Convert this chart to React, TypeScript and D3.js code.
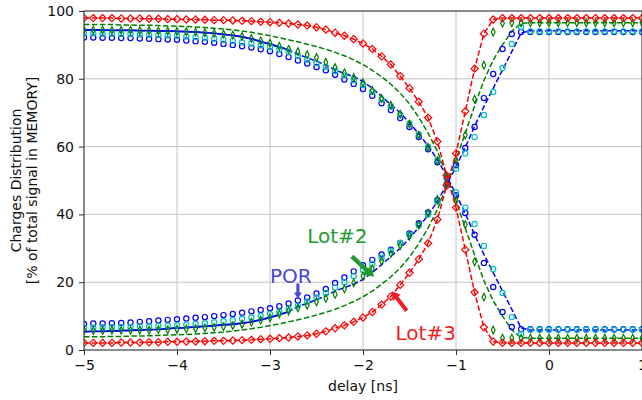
import React, { useRef, useEffect } from 'react';
import * as d3 from 'd3';

// delay grid [ns], one sample every 0.1 ns from -5 to 1
const delay = d3.range(61).map(i => -5 + i * 0.1);

// Lot#3 (red diamonds + dashed fit)
const lot3Top = [
  97.9, 97.9, 97.9, 97.9, 97.8, 97.8, 97.8, 97.7, 97.7, 97.6, 97.6, 97.5, 97.5, 97.4, 97.3, 97.3, 97.2, 97.1, 97.0, 96.8,
  96.7, 96.5, 96.3, 96.0, 95.7, 95.2, 94.5, 93.6, 92.7, 91.7,
  90.4, 88.8, 86.6, 84.2, 80.8, 77.2, 73.2, 68.5, 61.5, 51.5,
  42.0, 29.6, 17.0, 6.7, 2.5, 2.1, 2.1, 2.1, 2.1, 2.1,
  2.1, 2.1, 2.1, 2.1, 2.1, 2.1, 2.1, 2.1, 2.1, 2.1, 2.1,
];
const lot3Bot = [
  2.1, 2.1, 2.1, 2.1, 2.2, 2.2, 2.2, 2.3, 2.3, 2.4, 2.4, 2.5, 2.5, 2.6, 2.7, 2.7, 2.8, 2.9, 3.0, 3.2,
  3.3, 3.5, 3.7, 4.0, 4.3, 4.8, 5.5, 6.4, 7.3, 8.3,
  9.6, 11.2, 13.4, 15.8, 19.2, 22.8, 26.8, 31.5, 38.5, 48.5,
  58.0, 70.4, 83.0, 93.3, 97.5, 97.9, 97.9, 97.9, 97.9, 97.9,
  97.9, 97.9, 97.9, 97.9, 97.9, 97.9, 97.9, 97.9, 97.9, 97.9, 97.9,
];

// Lot#2 (green thin diamonds)
const lot2Top = [
  94.4, 94.4, 94.4, 94.3, 94.3, 94.3, 94.2, 94.2, 94.1, 94.1, 94.0, 93.9, 93.8, 93.6, 93.4, 93.2, 92.9, 92.5, 91.9, 91.2,
  90.5, 89.6, 88.7, 88.0, 87.1, 86.3, 84.9, 83.3, 81.8, 80.4,
  78.8, 76.6, 74.2, 72.2, 69.6, 66.6, 63.4, 59.8, 55.8, 51.0,
  44.0, 37.0, 26.0, 15.6, 5.9, 3.5, 3.5, 3.5, 3.5, 3.5,
  3.5, 3.5, 3.5, 3.5, 3.5, 3.5, 3.5, 3.5, 3.5, 3.5, 3.5,
];
const lot2Bot = [
  5.7, 5.7, 5.7, 5.8, 5.8, 5.8, 5.9, 5.9, 6.0, 6.0, 6.1, 6.2, 6.3, 6.5, 6.7, 6.9, 7.2, 7.6, 8.2, 8.8,
  9.5, 10.6, 11.5, 12.4, 13.2, 14.2, 15.2, 16.4, 18.0, 19.8,
  21.8, 24.0, 26.2, 28.4, 30.8, 33.6, 36.8, 40.4, 44.4, 49.2,
  56.0, 63.4, 74.0, 84.0, 93.8, 96.4, 96.5, 96.5, 96.5, 96.5,
  96.5, 96.5, 96.5, 96.5, 96.5, 96.5, 96.5, 96.5, 96.5, 96.5, 96.5,
];
// Lot#2 fit (green dashed)
const lot2FitTop = [
  96.0, 96.0, 96.0, 96.0, 95.9, 95.9, 95.8, 95.8, 95.7, 95.6, 95.5, 95.4, 95.3, 95.1, 94.9, 94.7, 94.4, 94.1, 93.7, 93.2,
  92.7, 92.1, 91.5, 90.9, 90.2, 89.5, 88.7, 87.8, 86.8, 85.6,
  84.2, 82.5, 80.6, 78.4, 75.8, 72.6, 68.6, 64.0, 58.6, 51.6,
  44.0, 36.0, 28.0, 20.5, 14.5, 10.0, 6.0, 3.6, 3.5, 3.5,
  3.5, 3.5, 3.5, 3.5, 3.5, 3.5, 3.5, 3.5, 3.5, 3.5, 3.5,
];
const lot2FitBot = [
  3.9, 3.9, 3.9, 4.0, 4.0, 4.1, 4.1, 4.2, 4.3, 4.4, 4.5, 4.6, 4.7, 4.9, 5.1, 5.3, 5.6, 5.9, 6.3, 6.7,
  7.2, 7.7, 8.3, 8.9, 9.6, 10.3, 11.1, 12.0, 13.1, 14.3,
  15.7, 17.4, 19.4, 21.6, 24.2, 27.4, 31.4, 36.0, 41.4, 48.4,
  56.0, 64.0, 72.0, 79.5, 85.5, 90.0, 94.0, 96.4, 96.5, 96.5,
  96.5, 96.5, 96.5, 96.5, 96.5, 96.5, 96.5, 96.5, 96.5, 96.5, 96.5,
];

// POR (blue circles)
const porTop = [
  92.2, 92.2, 92.1, 92.1, 92.0, 92.0, 91.9, 91.8, 91.7, 91.6, 91.5, 91.3, 91.1, 90.9, 90.6, 90.3, 90.0, 89.6, 89.2, 88.7,
  88.1, 87.3, 86.4, 85.4, 84.5, 83.5, 82.5, 81.2, 79.8, 78.5,
  77.0, 75.0, 72.8, 70.8, 68.4, 65.8, 62.8, 59.2, 55.4, 50.8,
  45.7, 40.4, 34.0, 25.7, 18.6, 11.2, 6.8, 6.1, 6.1, 6.1,
  6.1, 6.1, 6.1, 6.1, 6.1, 6.1, 6.1, 6.1, 6.1, 6.1, 6.1,
];
const porBot = [
  7.7, 7.8, 7.8, 7.9, 8.0, 8.1, 8.3, 8.5, 8.7, 8.9, 9.1, 9.3, 9.5, 9.7, 10.0, 10.3, 10.6, 11.0, 11.4, 11.8,
  12.3, 12.9, 13.7, 14.6, 15.5, 16.7, 18.0, 19.8, 21.4, 23.2,
  25.0, 26.6, 28.2, 29.6, 31.6, 34.4, 37.4, 40.6, 44.2, 49.0,
  54.5, 59.6, 65.8, 74.3, 81.4, 88.8, 93.2, 93.8, 93.8, 93.8,
  93.8, 93.8, 93.8, 93.8, 93.8, 93.8, 93.8, 93.8, 93.8, 93.8, 93.8,
];
// reference (cyan circles)
const refTop = [
  93.4, 93.4, 93.3, 93.3, 93.2, 93.2, 93.1, 93.0, 92.9, 92.8, 92.7, 92.5, 92.3, 92.1, 91.8, 91.5, 91.2, 90.8, 90.4, 89.9,
  89.4, 88.7, 88.0, 86.8, 85.6, 84.6, 83.5, 82.3, 81.0, 79.6,
  78.2, 76.2, 74.0, 71.8, 69.4, 66.8, 63.6, 60.0, 56.0, 51.2,
  46.5, 42.0, 37.2, 30.7, 23.9, 16.8, 9.7, 4.7, 6.0, 6.0,
  6.0, 6.0, 6.0, 6.0, 6.0, 6.0, 6.0, 6.0, 6.0, 6.0, 6.0,
];
const refBot = [
  6.6, 6.6, 6.7, 6.7, 6.8, 6.8, 6.9, 7.0, 7.1, 7.2, 7.3, 7.5, 7.7, 7.9, 8.2, 8.5, 8.8, 9.2, 9.6, 10.1,
  10.6, 11.3, 12.1, 13.1, 14.3, 15.5, 16.8, 18.4, 20.0, 21.8,
  23.6, 25.4, 27.2, 29.3, 31.6, 34.0, 36.8, 40.0, 43.8, 48.6,
  53.5, 58.0, 62.8, 69.3, 76.1, 83.2, 90.3, 95.3, 94.0, 94.0,
  94.0, 94.0, 94.0, 94.0, 94.0, 94.0, 94.0, 94.0, 94.0, 94.0, 94.0,
];
// POR fit (blue dashed; solid below -2.8 ns)
const porFitTop = [
  94.4, 94.4, 94.4, 94.3, 94.3, 94.3, 94.2, 94.2, 94.1, 94.1, 94.0, 93.9, 93.8, 93.6, 93.4, 93.1, 92.8, 92.4, 91.8, 91.0,
  90.2, 89.4, 88.5, 87.2, 86.2, 85.2, 84.0, 82.6, 81.6, 80.6,
  79.2, 77.2, 74.8, 72.4, 70.0, 67.0, 63.8, 60.2, 56.2, 51.2,
  46.0, 40.2, 34.0, 28.2, 22.8, 17.4, 12.0, 6.5, 5.9, 5.9,
  5.9, 5.9, 5.9, 5.9, 5.9, 5.9, 5.9, 5.9, 5.9, 5.9, 5.9,
];
const porFitBot = [
  5.4, 5.5, 5.5, 5.6, 5.7, 5.8, 5.9, 6.0, 6.1, 6.3, 6.5, 6.6, 6.8, 7.0, 7.2, 7.4, 7.6, 7.9, 8.3, 8.9,
  9.6, 10.4, 11.3, 12.8, 13.8, 14.8, 16.0, 17.4, 18.4, 19.4,
  20.8, 22.8, 25.2, 27.6, 30.0, 33.0, 36.2, 39.8, 43.8, 48.8,
  54.0, 59.8, 66.0, 71.8, 77.2, 82.6, 88.0, 93.5, 94.2, 94.2,
  94.2, 94.2, 94.2, 94.2, 94.2, 94.2, 94.2, 94.2, 94.2, 94.2, 94.2,
];
const solidEnd = -2.8;

const xTicks = [-5, -4, -3, -2, -1, 0, 1];
const yTicks = [0, 20, 40, 60, 80, 100];

// annotations: text anchors and arrows in data units
const notes = [
  { text: 'Lot#2', x: -2.6, y: 31.6, color: '#229a33' },
  { text: 'POR', x: -3.0, y: 19.8, color: '#4848d4' },
  { text: 'Lot#3', x: -1.65, y: 3.0, color: '#ee1d26' },
];
const arrows = [
  { from: [-2.12, 27.6], to: [-1.88, 21.6], color: '#229a33', w: 4.5, hw: 12, hl: 10 },
  { from: [-2.7, 19.6], to: [-2.7, 15.2], color: '#4848d4', w: 3, hw: 8, hl: 6 },
  { from: [-1.53, 11.6], to: [-1.69, 17.3], color: '#ee1d26', w: 4, hw: 10, hl: 8 },
];

const W = 642;
const H = 400;
const m = { left: 84, right: 0, top: 11, bottom: 50 };

function arrowPath(x1, y1, x2, y2, w, hw, hl) {
  const dx = x2 - x1, dy = y2 - y1;
  const len = Math.sqrt(dx * dx + dy * dy);
  const ux = dx / len, uy = dy / len;
  const px = -uy, py = ux;
  const bx = x2 - ux * hl, by = y2 - uy * hl;
  const pts = [
    [x1 + px * w / 2, y1 + py * w / 2],
    [bx + px * w / 2, by + py * w / 2],
    [bx + px * hw / 2, by + py * hw / 2],
    [x2, y2],
    [bx - px * hw / 2, by - py * hw / 2],
    [bx - px * w / 2, by - py * w / 2],
    [x1 - px * w / 2, y1 - py * w / 2],
  ];
  return 'M' + pts.map(p => p.join(',')).join('L') + 'Z';
}

const App = () => {
  const svgRef = useRef(null);

  useEffect(() => {
    const svg = d3.select(svgRef.current);
    svg.selectAll('*').remove();

    const x = d3.scaleLinear().domain([-5, 1]).range([m.left, W - m.right]);
    const y = d3.scaleLinear().domain([0, 100]).range([H - m.bottom, m.top]);

    svg.append('defs').append('clipPath').attr('id', 'plotclip')
      .append('rect')
      .attr('x', x(-5)).attr('y', y(100))
      .attr('width', x(1) - x(-5)).attr('height', y(0) - y(100));

    // grid
    const grid = svg.append('g').attr('stroke', '#c4c4c4').attr('stroke-width', 1);
    xTicks.forEach(t => grid.append('line').attr('x1', x(t)).attr('x2', x(t)).attr('y1', y(0)).attr('y2', y(100)));
    yTicks.forEach(t => grid.append('line').attr('x1', x(-5)).attr('x2', x(1)).attr('y1', y(t)).attr('y2', y(t)));

    // axes
    const xAxis = svg.append('g')
      .attr('transform', `translate(0, ${y(0)})`)
      .call(d3.axisBottom(x).tickValues(xTicks).tickFormat(d3.format('d')).tickSize(5).tickPadding(5).tickSizeOuter(0));
    const yAxis = svg.append('g')
      .attr('transform', `translate(${x(-5)}, 0)`)
      .call(d3.axisLeft(y).tickValues(yTicks).tickFormat(d3.format('d')).tickSize(5).tickPadding(5).tickSizeOuter(0));
    [xAxis, yAxis].forEach(a => {
      a.select('.domain').remove();
      a.selectAll('line').attr('stroke', '#333');
      a.selectAll('text').attr('font-size', 14).attr('font-family', 'DejaVu Sans').attr('fill', '#111');
    });

    const plot = svg.append('g').attr('clip-path', 'url(#plotclip)');
    const pts = vals => vals.map((v, i) => [delay[i], v]);
    const line = d3.line().x(d => x(d[0])).y(d => y(d[1]));

    const drawLine = (vals, color, dash, width) => {
      plot.append('path')
        .attr('d', line(pts(vals)))
        .attr('fill', 'none')
        .attr('stroke', color)
        .attr('stroke-width', width)
        .attr('stroke-dasharray', dash);
    };
    const drawMarkers = (vals, color, shape) => {
      const g = plot.append('g').attr('fill', 'none').attr('stroke', color).attr('stroke-width', 1.2);
      pts(vals).forEach(([dx, v]) => {
        const cx = x(dx), cy = y(v);
        if (shape === 'circle') {
          g.append('circle').attr('cx', cx).attr('cy', cy).attr('r', 2.6);
        } else if (shape === 'diamond') {
          const r = 3.6;
          g.append('path').attr('d', `M${cx},${cy - r}L${cx + r},${cy}L${cx},${cy + r}L${cx - r},${cy}Z`);
        } else {
          const rw = 1.9, rh = 3.8;
          g.append('path').attr('d', `M${cx},${cy - rh}L${cx + rw},${cy}L${cx},${cy + rh}L${cx - rw},${cy}Z`);
        }
      });
    };

    // fits
    drawLine(lot2FitTop, '#008000', '5.5,2.4', 1.5);
    drawLine(lot2FitBot, '#008000', '5.5,2.4', 1.5);
    drawLine(porFitTop, '#0000ff', '5.5,2.4', 1.5);
    drawLine(porFitBot, '#0000ff', '5.5,2.4', 1.5);
    const nSolid = delay.filter(d => d <= solidEnd + 1e-9).length;
    drawLine(porFitTop.slice(0, nSolid), '#0000ff', null, 1.8);
    drawLine(porFitBot.slice(0, nSolid), '#0000ff', null, 1.8);

    // measurements
    drawMarkers(porTop, '#0000ff', 'circle');
    drawMarkers(porBot, '#0000ff', 'circle');
    drawMarkers(refTop, '#00bfbf', 'circle');
    drawMarkers(refBot, '#00bfbf', 'circle');
    drawMarkers(lot2Top, '#008000', 'thin');
    drawMarkers(lot2Bot, '#008000', 'thin');
    drawLine(lot3Top, '#ff0000', '5.5,2.4', 1.5);
    drawLine(lot3Bot, '#ff0000', '5.5,2.4', 1.5);
    drawMarkers(lot3Top, '#ff0000', 'diamond');
    drawMarkers(lot3Bot, '#ff0000', 'diamond');

    // spines
    svg.append('rect')
      .attr('x', x(-5)).attr('y', y(100))
      .attr('width', x(1) - x(-5)).attr('height', y(0) - y(100))
      .attr('fill', 'none').attr('stroke', '#333').attr('stroke-width', 1);

    // annotations
    notes.forEach(n => {
      svg.append('text')
        .attr('x', x(n.x)).attr('y', y(n.y))
        .attr('fill', n.color)
        .attr('font-size', 20)
        .attr('font-family', 'DejaVu Sans')
        .text(n.text);
    });
    arrows.forEach(a => {
      svg.append('path')
        .attr('d', arrowPath(x(a.from[0]), y(a.from[1]), x(a.to[0]), y(a.to[1]), a.w, a.hw, a.hl))
        .attr('fill', a.color);
    });

    // axis labels
    svg.append('text')
      .attr('x', (x(-5) + x(1)) / 2).attr('y', 391)
      .attr('text-anchor', 'middle')
      .attr('font-size', 14).attr('font-family', 'DejaVu Sans').attr('fill', '#111')
      .text('delay [ns]');
    const yc = (y(0) + y(100)) / 2;
    [['Charges Distribution', 21], ['[% of total signal in MEMORY]', 37]].forEach(([t, bx]) => {
      svg.append('text')
        .attr('transform', `translate(${bx}, ${yc}) rotate(-90)`)
        .attr('text-anchor', 'middle')
        .attr('font-size', 14).attr('font-family', 'DejaVu Sans').attr('fill', '#111')
        .text(t);
    });
  }, []);

  return (
    <div style={{ position: 'absolute', left: 0, top: 0 }}>
      <svg ref={svgRef} width={W} height={H} style={{ display: 'block', background: '#fff' }}></svg>
    </div>
  );
};

export default App;
